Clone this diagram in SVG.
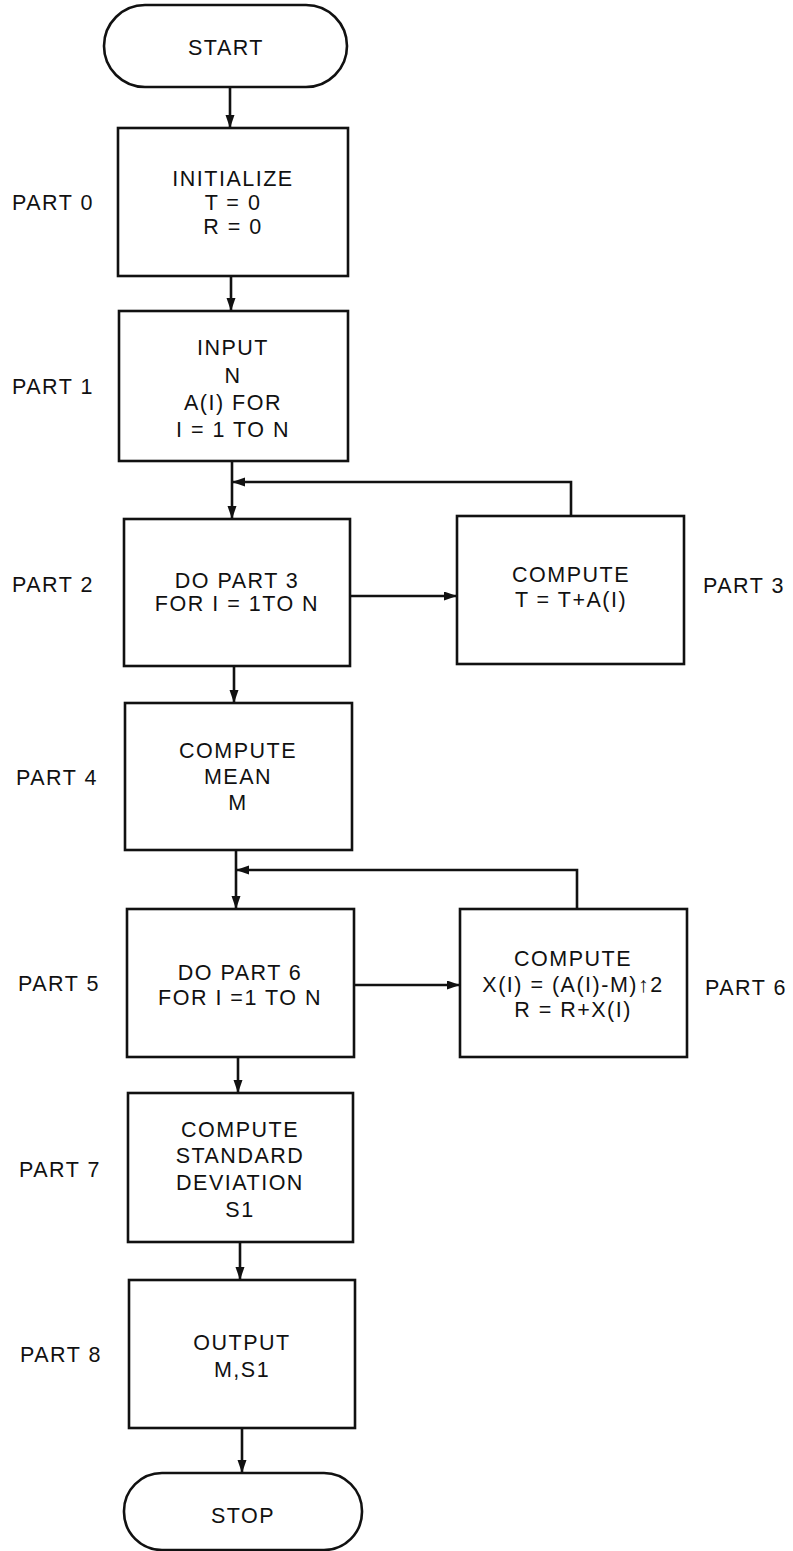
<svg xmlns="http://www.w3.org/2000/svg" width="793" height="1551" viewBox="0 0 793 1551">
<defs>
<marker id="ah" markerUnits="userSpaceOnUse" markerWidth="14" markerHeight="10" refX="13" refY="4.5" orient="auto">
<path d="M0,0 L13,4.5 L0,9 z" fill="#111"/>
</marker>
<style>
.b{fill:#fff;stroke:#111;stroke-width:2.6}
.c{fill:none;stroke:#111;stroke-width:2.6}
.t{font-family:"Liberation Sans",Arial,sans-serif;font-size:21.5px;fill:#111;text-anchor:middle;letter-spacing:1.5px}
.l{font-family:"Liberation Sans",Arial,sans-serif;font-size:21.5px;fill:#111;letter-spacing:1.5px}
</style>
</defs>
<rect width="793" height="1551" fill="#fff"/>
<g id="connectors">
<line class="c" x1="230" y1="87" x2="230" y2="128" marker-end="url(#ah)"/>
<line class="c" x1="231" y1="276" x2="231" y2="311" marker-end="url(#ah)"/>
<line class="c" x1="232" y1="461" x2="232" y2="519" marker-end="url(#ah)"/>
<path class="c" d="M571,516 V482 H232" marker-end="url(#ah)"/>
<line class="c" x1="350" y1="596" x2="457" y2="596" marker-end="url(#ah)"/>
<line class="c" x1="234" y1="666" x2="234" y2="703" marker-end="url(#ah)"/>
<line class="c" x1="236" y1="850" x2="236" y2="909" marker-end="url(#ah)"/>
<path class="c" d="M577,909 V870 H236" marker-end="url(#ah)"/>
<line class="c" x1="354" y1="985" x2="460" y2="985" marker-end="url(#ah)"/>
<line class="c" x1="238" y1="1057" x2="238" y2="1093" marker-end="url(#ah)"/>
<line class="c" x1="240" y1="1242" x2="240" y2="1280" marker-end="url(#ah)"/>
<line class="c" x1="242" y1="1428" x2="242" y2="1473" marker-end="url(#ah)"/>
</g>
<g id="start">
<rect class="b" x="104" y="5" width="243" height="82" rx="41" ry="41"/>
<text class="t" x="226" y="55">START</text>
</g>
<g id="part0">
<rect class="b" x="118" y="128" width="230" height="148"/>
<text class="t" x="233" y="186">INITIALIZE</text>
<text class="t" x="233" y="210">T = 0</text>
<text class="t" x="233" y="234">R = 0</text>
<text class="l" x="12" y="210">PART 0</text>
</g>
<g id="part1">
<rect class="b" x="119" y="311" width="229" height="150"/>
<text class="t" x="233" y="355">INPUT</text>
<text class="t" x="233" y="383">N</text>
<text class="t" x="233" y="410">A(I) FOR</text>
<text class="t" x="233" y="437">I = 1 TO N</text>
<text class="l" x="12" y="394">PART 1</text>
</g>
<g id="part2">
<rect class="b" x="124" y="519" width="226" height="147"/>
<text class="t" x="237" y="588">DO PART 3</text>
<text class="t" x="237" y="611">FOR I = 1TO N</text>
<text class="l" x="12" y="592">PART 2</text>
</g>
<g id="part3">
<rect class="b" x="457" y="516" width="227" height="148"/>
<text class="t" x="571" y="582">COMPUTE</text>
<text class="t" x="571" y="607">T = T+A(I)</text>
<text class="l" x="703" y="593">PART 3</text>
</g>
<g id="part4">
<rect class="b" x="125" y="703" width="227" height="147"/>
<text class="t" x="238" y="758">COMPUTE</text>
<text class="t" x="238" y="784">MEAN</text>
<text class="t" x="238" y="810">M</text>
<text class="l" x="16" y="785">PART 4</text>
</g>
<g id="part5">
<rect class="b" x="127" y="909" width="227" height="148"/>
<text class="t" x="240" y="980">DO PART 6</text>
<text class="t" x="240" y="1005">FOR I =1 TO N</text>
<text class="l" x="18" y="991">PART 5</text>
</g>
<g id="part6">
<rect class="b" x="460" y="909" width="227" height="148"/>
<text class="t" x="573" y="966">COMPUTE</text>
<text class="t" x="573" y="992">X(I) = (A(I)-M)↑2</text>
<text class="t" x="573" y="1017">R = R+X(I)</text>
<text class="l" x="705" y="995">PART 6</text>
</g>
<g id="part7">
<rect class="b" x="128" y="1093" width="225" height="149"/>
<text class="t" x="240" y="1137">COMPUTE</text>
<text class="t" x="240" y="1163">STANDARD</text>
<text class="t" x="240" y="1190">DEVIATION</text>
<text class="t" x="240" y="1217">S1</text>
<text class="l" x="19" y="1177">PART 7</text>
</g>
<g id="part8">
<rect class="b" x="129" y="1280" width="226" height="148"/>
<text class="t" x="242" y="1350">OUTPUT</text>
<text class="t" x="242" y="1377">M,S1</text>
<text class="l" x="20" y="1362">PART 8</text>
</g>
<g id="stop">
<rect class="b" x="124" y="1473" width="238" height="77" rx="38" ry="38"/>
<text class="t" x="243" y="1523">STOP</text>
</g>
</svg>
